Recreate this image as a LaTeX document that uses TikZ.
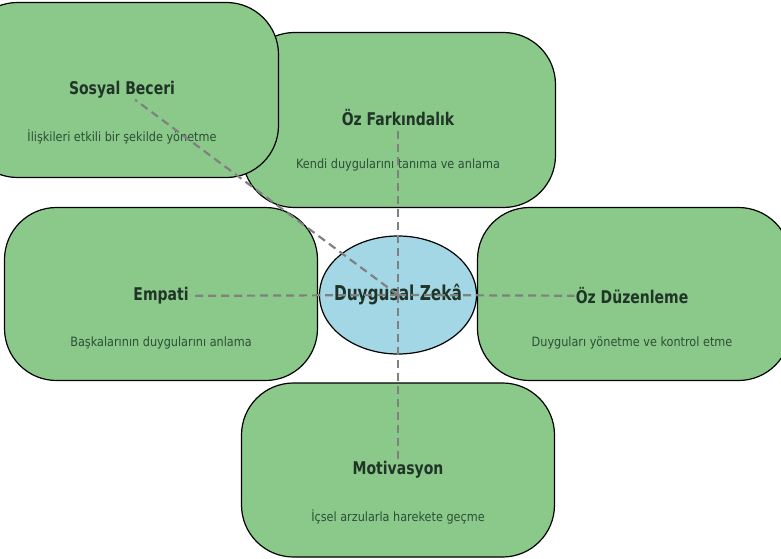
\documentclass[tikz,border=0pt]{standalone}
\usepackage{fontspec}
\setmainfont{DejaVu Sans}[FakeStretch=0.88]
\newfontfamily\titlefont{DejaVu Sans}[FakeStretch=0.8]
\newfontfamily\hubfont{DejaVu Sans}[FakeStretch=0.75]
\usetikzlibrary{positioning,shapes.geometric}

\definecolor{leafgreen}{RGB}{139,201,138}
\definecolor{skyblue}{RGB}{163,215,230}
\definecolor{titleink}{RGB}{32,52,40}
\definecolor{descink}{RGB}{44,78,54}
\definecolor{linkgray}{RGB}{128,128,128}

\begin{document}
\begin{tikzpicture}[x=1pt,y=-1pt,node distance=47pt,
    box/.style = {draw, line width=1.2pt, fill=leafgreen, rounded corners=52pt,
                  minimum width=313pt, minimum height=175pt},
    hub/.style = {draw, line width=1.2pt, fill=skyblue, ellipse, inner sep=0pt,
                  minimum width=157pt, minimum height=118pt},
    hubtext/.style = {text=titleink, inner sep=0pt, font=\hubfont\bfseries\fontsize{20.5}{23}\selectfont},
    title/.style = {text=titleink, inner sep=1pt, font=\titlefont\bfseries\fontsize{17.5}{20}\selectfont},
    desc/.style = {text=descink, on grid, font=\fontsize{12.8}{15}\selectfont},
    link/.style = {draw=linkgray, line width=2.2pt, dash pattern=on 8pt off 5pt}]

      \useasboundingbox (0,0) rectangle (781,559);

      % rounded boxes
      \node[box](ofbox) at (399,120) {};
      \node[box](sbbox) at (122,90) {};
      \node[box, minimum height=173pt](embox) at (161,294) {};
      \node[box, minimum height=173pt](odbox) at (634,294) {};
      \node[box, minimum height=174pt](mvbox) at (398,470) {};
      \node[hub](dz) at (398,295) {};
      \node[hubtext](dzt) at (dz) {Duygusal Zekâ};

      % titles
      \node[title](sb) at (122,90) {Sosyal Beceri};
      \node[title](of) at (398,118) {Öz Farkındalık};
      \node[title](em) at (161,296) {Empati};
      \node[title](od) at (632,296) {Öz Düzenleme};
      \node[title](mv) at (398,470) {Motivasyon};

      % descriptions
      \node[desc](sbd)[below=of sb] {İlişkileri etkili bir şekilde yönetme};
      \node[desc](ofd)[below=of of] {Kendi duygularını tanıma ve anlama};
      \node[desc](emd)[below=of em] {Başkalarının duygularını anlama};
      \node[desc](odd)[below=of od] {Duyguları yönetme ve kontrol etme};
      \node[desc](mvd)[below=of mv] {İçsel arzularla harekete geçme};

      \path[link]
      (dz.center) edge (sb)
      (dz.center) edge (of)
      (dz.center) edge (em)
      (dz.center) edge (od)
      (dz.center) edge (mv)
      ;

\end{tikzpicture}
\end{document}
